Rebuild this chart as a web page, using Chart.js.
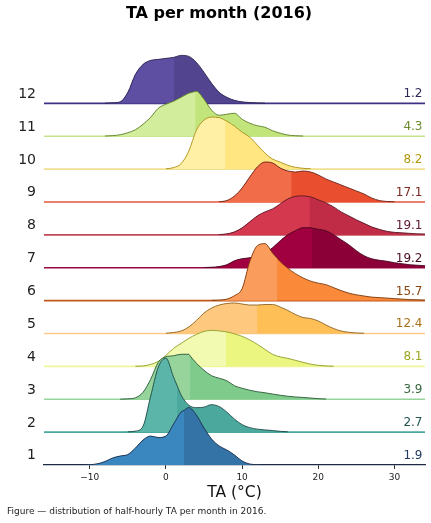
<!DOCTYPE html>
<html>
<head>
<meta charset="utf-8">
<script src="https://cdn.jsdelivr.net/npm/chart.js@4"></script>
<style>
  html, body { margin: 0; padding: 0; background: #fff; }
  canvas { display: block; }
</style>
</head>
<body>
<canvas id="ridgeChart" width="431" height="523"></canvas>
<script>
const months = ['1', '2', '3', '4', '5', '6', '7', '8', '9', '10', '11', '12'];

// temperature grid (°C) the densities are read on
const tempGrid = [-12, -11, -10, -9, -8, -7, -6, -5, -4, -3, -2, -1, 0, 1, 2, 3, 4, 5, 6, 7, 8, 9, 10,
  11, 12, 13, 14, 15, 16, 17, 18, 19, 20, 21, 22, 23, 24, 25, 26, 27, 28, 29, 30, 31, 32, 33, 34];

// relative density per month, one value per grid point
const densJan = [0, 0.1, 0.3, 1.2, 3.5, 7, 9, 10.5, 17, 25, 29, 27.5, 29, 41, 53, 57.5, 50, 37, 26, 19, 15, 10, 4, 1, 0.3,
  0, 0, 0, 0, 0, 0, 0, 0, 0, 0, 0, 0, 0, 0, 0, 0, 0, 0, 0, 0, 0, 0];
const densFeb = [0, 0, 0, 0, 0, 0, 0.1, 0.3, 1, 6, 36, 65, 74, 55, 37, 27, 24.5, 25, 27.5, 25.5, 20, 13, 7.5, 4.5, 3,
  2.2, 1.6, 0.8, 0.3, 0, 0, 0, 0, 0, 0, 0, 0, 0, 0, 0, 0, 0, 0, 0, 0, 0, 0];
const densMar = [0, 0, 0, 0, 0, 0, 0.1, 0.4, 1.5, 7, 20, 37, 42.5, 43.5, 45, 45, 36, 29, 23.5, 21, 18.5, 13.5, 11, 9, 7.5,
  6.5, 5.2, 4, 3, 2.3, 1.8, 1.2, 0.6, 0.2, 0, 0, 0, 0, 0, 0, 0, 0, 0, 0, 0, 0, 0];
const densApr = [0, 0, 0, 0, 0, 0, 0, 0, 0.1, 0.4, 2, 5, 11, 18, 23, 28, 32, 35, 36, 35.5, 34.5, 32.5, 30, 26.5, 22,
  17, 12, 9.5, 8, 6, 4, 2.2, 1, 0.4, 0.1, 0, 0, 0, 0, 0, 0, 0, 0, 0, 0, 0, 0];
const densMay = [0, 0, 0, 0, 0, 0, 0, 0, 0, 0, 0, 0, 0.3, 1, 2.5, 6.5, 13, 20.5, 25.5, 28.5, 30, 30.5, 29.5, 28.5, 28.5,
  29, 29, 26.5, 23, 19, 16, 15, 12.5, 8.5, 5, 2.5, 1.2, 0.5, 0.2, 0, 0, 0, 0, 0, 0, 0, 0];
const densJun = [0, 0, 0, 0, 0, 0, 0, 0, 0, 0, 0, 0, 0, 0, 0, 0, 0, 0, 0.2, 0.5, 1.5, 5, 12, 39, 55,
  57, 47.5, 39, 32.5, 27, 22.7, 19.5, 17.5, 16, 13, 10, 7.5, 5.8, 4.6, 3.5, 3, 2.5, 2, 1.5, 1, 0.8, 0.5];
const densJul = [0, 0, 0, 0, 0, 0, 0, 0, 0, 0, 0, 0, 0, 0, 0, 0, 0, 0.2, 0.5, 1.2, 3, 7, 9, 10, 12,
  15, 20, 27, 33, 37, 40, 40, 38.5, 37, 33, 28, 23, 17, 12, 9, 7.5, 6.5, 5, 4, 3, 2.5, 2];
const densAug = [0, 0, 0, 0, 0, 0, 0, 0, 0, 0, 0, 0, 0, 0, 0, 0, 0, 0, 0, 0.3, 1, 3, 7, 13, 19,
  23, 26, 31, 36, 38.5, 39, 38, 35, 32, 28, 23, 19, 15, 11.5, 8, 5.5, 3.5, 2.5, 2, 1.5, 1, 0.8];
const densSep = [0, 0, 0, 0, 0, 0, 0, 0, 0, 0, 0, 0, 0, 0, 0, 0, 0, 0, 0, 0.3, 1.5, 6, 14, 25, 35,
  40, 39, 34, 31, 30, 31, 30, 27, 23, 20, 17, 14, 11, 8, 4, 1.5, 0.5, 0.2, 0, 0, 0, 0];
const densOct = [0, 0, 0, 0, 0, 0, 0, 0, 0, 0, 0, 0, 0.3, 1.5, 5.5, 18, 39, 49, 52, 51.5, 48, 43, 37, 32, 24,
  16, 10, 7, 3.8, 1.8, 0.8, 0.3, 0, 0, 0, 0, 0, 0, 0, 0, 0, 0, 0, 0, 0, 0, 0];
const densNov = [0, 0, 0, 0, 0.2, 0.6, 1.5, 3.5, 6.5, 12, 19, 28, 32, 35, 39, 43, 45, 37, 26, 21, 22, 23, 17, 13, 10.5,
  9, 5.5, 3, 1.2, 0.5, 0.2, 0, 0, 0, 0, 0, 0, 0, 0, 0, 0, 0, 0, 0, 0, 0, 0];
const densDec = [0, 0, 0, 0, 0.2, 0.5, 1.5, 11, 29, 39, 43, 44, 45, 46, 48, 47, 41, 31, 20, 11, 6, 3, 1.5, 0.8, 0.4,
  0.2, 0, 0, 0, 0, 0, 0, 0, 0, 0, 0, 0, 0, 0, 0, 0, 0, 0, 0, 0, 0, 0];
const densByMonth = [densJan, densFeb, densMar, densApr, densMay, densJun,
  densJul, densAug, densSep, densOct, densNov, densDec];

const medians = [2.4, 1.5, 3.2, 7.9, 12.0, 14.6, 19.2, 18.9, 16.5, 7.8, 3.9, 1.1];
const means = [1.9, 2.7, 3.9, 8.1, 12.4, 15.7, 19.2, 19.1, 17.1, 8.2, 4.3, 1.2];
const xTicks = [-10, 0, 10, 20, 30];

// colours, month 1..12
const fillLow = ['#3a87c0', '#5bb6a9', '#97d49b', '#f2f9b0', '#fec87f', '#fa9c5c',
  '#a0003f', '#d4384f', '#f16c49', '#fff0a6', '#d2ed9c', '#5e4fa2'];
const fillHigh = ['#3373a6', '#4ba89d', '#7ecb8c', '#ebf680', '#fdbf56', '#fa8a3a',
  '#8c0038', '#c02c46', '#e94f2f', '#ffe680', '#c1e57a', '#52448e'];
const edgeColors = ['#1c2e4a', '#1e4a45', '#2e5a3a', '#8f9c25', '#8e6225', '#7a3a10',
  '#4a0820', '#5a1828', '#6a2418', '#a89018', '#5e7e28', '#2a2250'];
const baseColors = ['#1d2b45', '#4ba89d', '#97d49b', '#eef59a', '#fbc98a', '#c0581a',
  '#9a0840', '#c04a5a', '#e8553a', '#f0df90', '#c5e58c', '#3b3283'];
const meanColors = ['#1f3a5c', '#1f534d', '#38683d', '#9ca61f', '#a8701a', '#8a4412',
  '#4a0d26', '#5e2030', '#7a2a22', '#b3980f', '#6d8b2c', '#2e2856'];

const ridgeScale = 1 / 32.9;   // density units per row
const labelLift = 0.28;        // month labels sit a little above their baseline

function densityAt(dens, t) {
  for (let k = 0; k < tempGrid.length - 1; k++) {
    if (t >= tempGrid[k] && t <= tempGrid[k + 1]) {
      const f = (t - tempGrid[k]) / (tempGrid[k + 1] - tempGrid[k]);
      return dens[k] + f * (dens[k + 1] - dens[k]);
    }
  }
  return 0;
}

const datasets = [];
densByMonth.forEach((dens, i) => {
  const base = i;
  const pts = tempGrid.map((t, k) => ({ x: t, y: base + dens[k] * ridgeScale }));
  const mid = { x: medians[i], y: base + densityAt(dens, medians[i]) * ridgeScale };
  const low = pts.filter(p => p.x < medians[i]).concat([mid]);
  const full = low.concat(pts.filter(p => p.x > medians[i]));
  const common = { yAxisID: 'y', pointRadius: 0, cubicInterpolationMode: 'monotone' };

  // outline, hidden where the curve lies on its baseline
  datasets.push({
    ...common, data: full, order: i * 4, fill: false,
    borderColor: edgeColors[i], borderWidth: 0.9,
    segment: {
      borderColor: c => (c.p0.parsed.y - base < 0.01 && c.p1.parsed.y - base < 0.01) ? 'rgba(0,0,0,0)' : undefined
    }
  });
  // lighter part below the median, painted over the full darker fill
  datasets.push({
    ...common, data: low, order: i * 4 + 1,
    borderWidth: 0, borderColor: 'rgba(0,0,0,0)',
    backgroundColor: fillLow[i], fill: { value: base }
  });
  datasets.push({
    ...common, data: full, order: i * 4 + 2,
    borderWidth: 0, borderColor: 'rgba(0,0,0,0)',
    backgroundColor: fillHigh[i], fill: { value: base }
  });
  datasets.push({
    yAxisID: 'y', pointRadius: 0, order: i * 4 + 3, fill: false,
    data: [{ x: -16, y: base }, { x: 34, y: base }],
    borderColor: baseColors[i], borderWidth: 1.6
  });
});

const meanLabels = {
  id: 'meanLabels',
  afterDatasetsDraw(chart) {
    const { ctx, chartArea, scales } = chart;
    ctx.save();
    ctx.font = '12px "DejaVu Sans"';
    ctx.textAlign = 'right';
    ctx.textBaseline = 'middle';
    means.forEach((m, i) => {
      ctx.fillStyle = meanColors[i];
      ctx.fillText(m.toFixed(1), chartArea.right - 2.5, scales.y.getPixelForValue(i + labelLift));
    });
    ctx.restore();
  }
};

Chart.defaults.font.family = '"DejaVu Sans"';
Chart.defaults.color = '#222';

new Chart(document.getElementById('ridgeChart'), {
  type: 'line',
  data: { datasets },
  plugins: [meanLabels],
  options: {
    responsive: false,
    animation: false,
    events: [],
    layout: { padding: { left: 7, right: 0, top: 0, bottom: 0 } },
    plugins: {
      legend: { display: false },
      tooltip: { enabled: false },
      title: {
        display: true,
        text: 'TA per month (2016)',
        color: '#000',
        font: { size: 16, weight: 'bold' },
        padding: { top: 4, bottom: 14.4 }
      },
      subtitle: {
        display: true,
        position: 'bottom',
        align: 'start',
        text: 'Figure \u2014 distribution of half-hourly TA per month in 2016.',
        color: '#222',
        font: { size: 9 },
        padding: { top: 0, bottom: 6 }
      }
    },
    scales: {
      x: {
        type: 'linear',
        min: -16,
        max: 34,
        afterBuildTicks: s => { s.ticks = xTicks.map(v => ({ value: v })); },
        afterFit: s => { s.height = 41.2; },
        grid: { display: true, drawOnChartArea: false, drawTicks: true, tickLength: 4, tickColor: '#333' },
        border: { display: true, color: '#1d2b45', width: 1.3 },
        ticks: {
          padding: 3,
          font: { size: 9 },
          color: '#222',
          callback: v => (v < 0 ? '\u2212' + Math.abs(v) : String(v))
        },
        title: {
          display: true,
          text: 'TA (\u00b0C)',
          color: '#111',
          font: { size: 15.5 },
          padding: { top: 0, bottom: 4 }
        }
      },
      y: {
        type: 'linear',
        position: 'left',
        min: 0,
        max: 13,
        afterBuildTicks: s => { s.ticks = months.map((_, i) => ({ value: i + labelLift })); },
        afterFit: s => { s.width = 37; },
        grid: { display: false, drawTicks: false },
        border: { display: false },
        ticks: {
          autoSkip: false,
          padding: 8,
          font: { size: 14 },
          color: '#222',
          callback: (v, idx) => months[idx]
        }
      },
      yRight: {
        type: 'linear',
        position: 'right',
        display: true,
        grid: { display: false, drawTicks: false },
        border: { display: false },
        ticks: { display: false },
        afterFit: s => { s.width = 6; }
      }
    }
  }
});
</script>
</body>
</html>
